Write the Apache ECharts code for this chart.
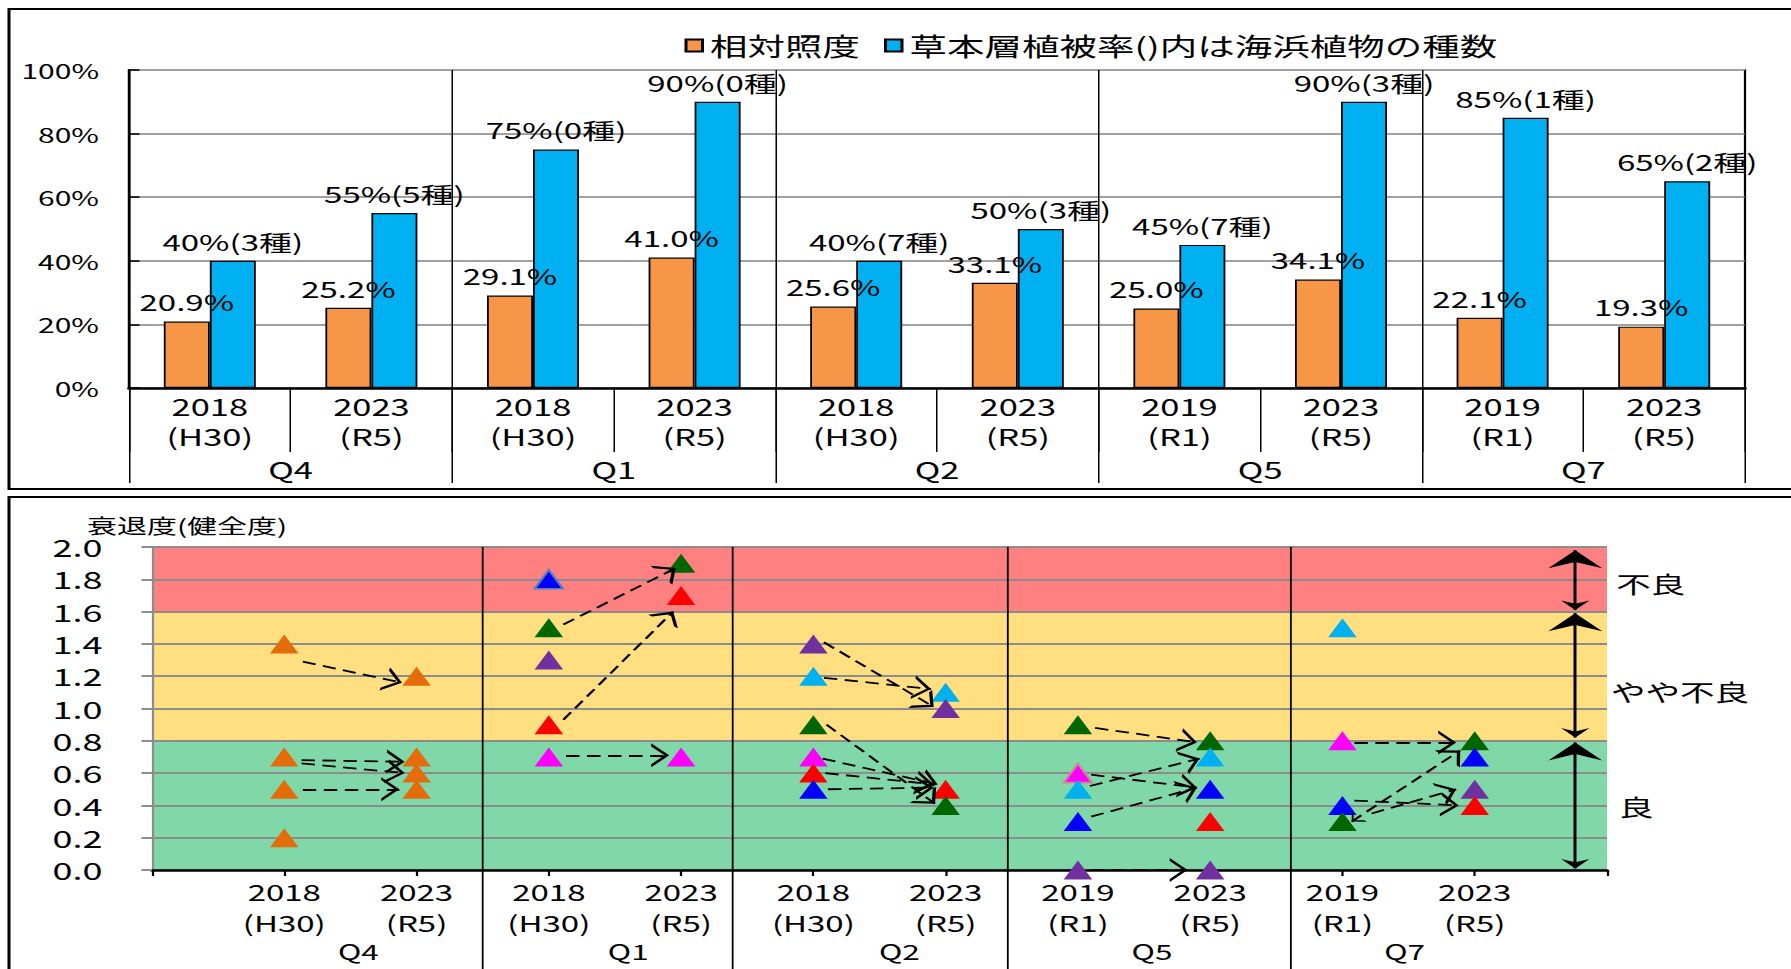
<!DOCTYPE html>
<html>
<head>
<meta charset="utf-8">
<script src="https://cdn.jsdelivr.net/npm/echarts@6/dist/echarts.min.js"></script>
<style>
  html, body { margin: 0; padding: 0; background: #fff; overflow: hidden; }
  #chart { position: absolute; left: 0; top: 0; height: 969px; transform-origin: 0 0; }
</style>
</head>
<body>
<div id="chart"></div>
<script>
// ---------- Top panel: relative illuminance / herb-layer coverage ----------
const sites = ['Q4', 'Q1', 'Q2', 'Q5', 'Q7'];
const surveyYears = ['2018', '2023', '2018', '2023', '2018', '2023', '2019', '2023', '2019', '2023'];
const surveyEras = ['H30', 'R5', 'H30', 'R5', 'H30', 'R5', 'R1', 'R5', 'R1', 'R5'];
const illuminance = [20.9, 25.2, 29.1, 41.0, 25.6, 33.1, 25.0, 34.1, 22.1, 19.3];
const coverage = [40, 55, 75, 90, 40, 50, 45, 90, 85, 65];
const coastalSpecies = [3, 5, 0, 0, 7, 3, 7, 3, 1, 2];

// ---------- Bottom panel: degradation (soundness) scores ----------
// [survey slot 1-10, score, colour key, optional outline key]
const scoresQ4 = [[1, 1.4, 'orange'], [1, 0.7, 'orange'], [1, 0.5, 'orange'], [1, 0.2, 'orange'],
                  [2, 1.2, 'orange'], [2, 0.7, 'orange'], [2, 0.6, 'orange'], [2, 0.5, 'orange']];
const scoresQ1 = [[3, 1.8, 'blue', 'steel'], [3, 1.5, 'green'], [3, 1.3, 'purple'], [3, 0.9, 'red'], [3, 0.7, 'magenta'],
                  [4, 1.9, 'green'], [4, 1.7, 'red'], [4, 0.7, 'magenta']];
const scoresQ2 = [[5, 1.4, 'purple'], [5, 1.2, 'cyan'], [5, 0.9, 'green'], [5, 0.7, 'magenta'], [5, 0.6, 'red'], [5, 0.5, 'blue'],
                  [6, 1.1, 'cyan'], [6, 1.0, 'purple'], [6, 0.5, 'red'], [6, 0.4, 'green']];
const scoresQ5 = [[7, 0.9, 'green'], [7, 0.6, 'magenta', 'rose'], [7, 0.5, 'cyan'], [7, 0.3, 'blue'], [7, 0.0, 'purple'],
                  [8, 0.8, 'green'], [8, 0.7, 'cyan'], [8, 0.5, 'blue'], [8, 0.3, 'red'], [8, 0.0, 'purple']];
const scoresQ7 = [[9, 1.5, 'cyan'], [9, 0.8, 'magenta'], [9, 0.4, 'blue'], [9, 0.3, 'green'],
                  [10, 0.8, 'green'], [10, 0.7, 'blue'], [10, 0.5, 'purple'], [10, 0.4, 'red']];

// Change arrows: [from slot, from score, to slot, to score]
const trendQ4 = [[1.14, 1.29, 1.89, 1.16], [1.13, 0.68, 1.91, 0.67], [1.13, 0.66, 1.91, 0.60], [1.14, 0.50, 1.87, 0.50]];
const trendQ1 = [[3.11, 1.52, 3.96, 1.87], [3.11, 0.93, 3.94, 1.60], [3.13, 0.71, 3.91, 0.71]];
const trendQ2 = [[5.08, 1.41, 5.91, 1.01], [5.08, 1.19, 5.89, 1.12], [5.10, 0.90, 5.92, 0.41],
                 [5.07, 0.69, 5.94, 0.53], [5.09, 0.60, 5.91, 0.53], [5.11, 0.50, 5.91, 0.51]];
const trendQ5 = [[7.13, 0.88, 7.90, 0.79], [7.10, 0.59, 7.90, 0.51], [7.09, 0.52, 7.92, 0.69],
                 [7.10, 0.33, 7.90, 0.51], [7.10, 0.00, 7.83, 0.00]];
const trendQ7 = [[9.09, 0.79, 9.86, 0.79], [9.09, 0.43, 9.88, 0.40], [9.22, 0.35, 9.86, 0.50]];
const trendQ7TwoWay = [[9.07, 0.30, 9.89, 0.74]];

// Rating bands and the range arrows beside them
const bandEdges = [0, 0.8, 1.6, 2.0];
const levelNames = ['良', 'やや不良', '不良'];
const levelSpans = [[0.01, 0.79], [0.82, 1.59], [1.61, 1.98]];
const levelLabelY = [0.40, 1.11, 1.78];
const levelLabelSlot = [11.09, 11.03, 11.07];
const levelArrowSlot = 10.76;
const siteDividers = [2.5, 4.39, 6.47, 8.61];
const siteLabelSlots = [1.56, 3.60, 5.65, 7.56, 9.47];

// ---------- chart ----------
const SX = 1.5; // horizontal stretch of the whole drawing
const el = document.getElementById('chart');
el.style.width = (1791 / SX) + 'px';
el.style.transform = 'scaleX(' + SX + ')';
const px = v => v / SX;
const FONT = '"Noto Sans CJK JP", "Noto Sans", sans-serif';

const palette = { orange: '#E46C0A', blue: '#0000FF', green: '#006600', purple: '#7030A0',
                  red: '#FF0000', magenta: '#FF00FF', cyan: '#00B0F0' };
const outlines = { steel: '#4F81BD', rose: '#C98A96' };
const CHEVRON = 'path://M10,-14L10.01,-14Z M10,0L20,14L17.4,14L10,3.6L2.6,14L0,14Z';
const STEALTH = 'path://M10,-20L10.01,-20Z M10,0L20,20L10,13L0,20Z';

const allScores = [...scoresQ4, ...scoresQ1, ...scoresQ2, ...scoresQ5, ...scoresQ7];
const scoreData = allScores.map(([x, y, c, o]) => ({
  value: [x, y],
  itemStyle: { color: palette[c], opacity: 1, borderColor: o ? outlines[o] : palette[c], borderWidth: o ? 1.6 : 0 }
}));
const toLines = arr => arr.map(a => ({ coords: [[a[0], a[1]], [a[2], a[3]]] }));
const allTrends = [...trendQ4, ...trendQ1, ...trendQ2, ...trendQ5, ...trendQ7];

const chart = echarts.init(el, null, { renderer: 'svg' });
const txt = { color: '#000', fontFamily: FONT };

const legendCoverage = '草本層植被率()内は海浜植物の種数';
const dashStyle = { color: '#000', width: 1.8, type: [9, 5], opacity: 1, curveness: 0 };

chart.setOption({
  animation: false,
  backgroundColor: '#fff',
  textStyle: { fontFamily: FONT, color: '#000' },
  legend: {
    left: px(677), top: 28, itemWidth: 11, itemHeight: 12, itemGap: 16, icon: 'rect',
    textStyle: Object.assign({ fontSize: 25 }, txt),
    data: ['相対照度', legendCoverage]
  },
  grid: [
    { left: px(129), top: 70, width: px(1745 - 129), height: 318, show: true, borderColor: '#000', borderWidth: 1.5 },
    { left: px(152), top: 547, width: px(1607 - 152), height: 323 }
  ],
  xAxis: [
    {
      gridIndex: 0, type: 'category', position: 'bottom',
      data: surveyYears.map((y, i) => y + '\n(' + surveyEras[i] + ')'),
      axisLine: { lineStyle: { color: '#000', width: 2.5 } },
      axisTick: { show: true, interval: 0, length: 64, lineStyle: { color: '#000', width: 1 } },
      axisLabel: Object.assign({ interval: 0, margin: 3, fontSize: 23, lineHeight: 30 }, txt),
      splitLine: { show: false }
    },
    {
      gridIndex: 0, type: 'category', position: 'bottom', data: sites,
      axisLine: { show: false },
      axisTick: { show: true, interval: 0, length: 95, lineStyle: { color: '#000', width: 1 } },
      axisLabel: Object.assign({ interval: 0, margin: 67, fontSize: 23, lineHeight: 28 }, txt),
      splitLine: { show: true, interval: 0, lineStyle: { color: '#000', width: 1 } }
    },
    {
      gridIndex: 1, type: 'value', position: 'bottom', min: 0, max: 11, interval: 1, z: 3,
      axisLine: { onZero: false, lineStyle: { color: '#000', width: 2.5 } },
      axisTick: { show: true, length: 6, lineStyle: { color: '#000', width: 1.5 } },
      axisLabel: Object.assign({
        margin: 6, fontSize: 22, lineHeight: 31,
        formatter: v => (Number.isInteger(v) && v >= 1 && v <= 10) ? surveyYears[v - 1] + '\n(' + surveyEras[v - 1] + ')' : ''
      }, txt),
      splitLine: { show: false }
    }
  ],
  yAxis: [
    {
      gridIndex: 0, type: 'value', position: 'left', min: 0, max: 100, interval: 20,
      axisLine: { show: true, lineStyle: { color: '#000', width: 1.5 } },
      axisTick: { show: true, inside: true, length: 7, lineStyle: { color: '#000', width: 1.5 } },
      axisLabel: Object.assign({ formatter: '{value}%', fontSize: 20, margin: 20 }, txt),
      splitLine: { lineStyle: { color: '#A0A0A0', width: 2 } }
    },
    {
      gridIndex: 1, type: 'value', position: 'left', min: 0, max: 2, interval: 0.2, z: 3,
      axisLine: { show: true, onZero: false, lineStyle: { color: '#8C8C8C', width: 1.5 } },
      axisTick: { show: true, length: 7, lineStyle: { color: '#8C8C8C', width: 2 } },
      axisLabel: Object.assign({ formatter: v => v.toFixed(1), fontSize: 24, margin: 33 }, txt),
      splitLine: { lineStyle: { color: '#8C8C8C', width: 2 } }
    }
  ],
  series: [
    {
      type: 'bar', name: '相対照度', xAxisIndex: 0, yAxisIndex: 0, data: illuminance,
      barWidth: px(46), barGap: '0%',
      itemStyle: { color: '#F79646', borderColor: '#000', borderWidth: 1.2 },
      label: Object.assign({ show: true, position: 'top', distance: 9, fontSize: 22,
        formatter: p => p.value.toFixed(1) + '%' }, txt)
    },
    {
      type: 'bar', name: legendCoverage, xAxisIndex: 0, yAxisIndex: 0, data: coverage,
      barWidth: px(46), barGap: '0%',
      itemStyle: { color: '#00B0F0', borderColor: '#000', borderWidth: 1.2 },
      label: Object.assign({ show: true, position: 'top', distance: 9, fontSize: 22,
        formatter: p => p.value + '%(' + coastalSpecies[p.dataIndex] + '種)' }, txt)
    },
    {
      // rating bands
      type: 'scatter', xAxisIndex: 2, yAxisIndex: 1, data: [], silent: true, z: 0,
      markArea: {
        silent: true, z: 1,
        data: [
          [{ yAxis: bandEdges[0], itemStyle: { color: '#80D8A8', opacity: 1 } }, { yAxis: bandEdges[1] }],
          [{ yAxis: bandEdges[1], itemStyle: { color: '#FFDF80', opacity: 1 } }, { yAxis: bandEdges[2] }],
          [{ yAxis: bandEdges[2], itemStyle: { color: '#FF8080', opacity: 1 } }, { yAxis: bandEdges[3] }]
        ]
      }
    },
    {
      type: 'scatter', xAxisIndex: 2, yAxisIndex: 1, z: 5, silent: true,
      symbol: 'triangle', symbolSize: [19, 19], itemStyle: { opacity: 1 }, data: scoreData
    },
    {
      type: 'lines', coordinateSystem: 'cartesian2d', xAxisIndex: 2, yAxisIndex: 1, z: 6, silent: true, clip: false,
      symbol: ['none', CHEVRON], symbolSize: [14, 24],
      lineStyle: dashStyle, data: toLines(allTrends)
    },
    {
      type: 'lines', coordinateSystem: 'cartesian2d', xAxisIndex: 2, yAxisIndex: 1, z: 6, silent: true, clip: false,
      symbol: [CHEVRON, CHEVRON], symbolSize: [14, 24],
      lineStyle: dashStyle, data: toLines(trendQ7TwoWay)
    },
    {
      type: 'lines', coordinateSystem: 'cartesian2d', xAxisIndex: 2, yAxisIndex: 1, z: 6, silent: true, clip: false,
      symbol: [STEALTH, STEALTH], symbolSize: [19, 36],
      lineStyle: { color: '#000', width: 2, type: 'solid', opacity: 1, curveness: 0 },
      data: levelSpans.map(s => ({ coords: [[levelArrowSlot, s[0]], [levelArrowSlot, s[1]]] }))
    }
  ]
});

// Frames, site dividers and annotation text, placed through the axis scales
const pt = (x, y) => chart.convertToPixel({ gridIndex: 1 }, [x, y]);
const graphics = [
  { type: 'rect', z: 10, silent: true, shape: { x: px(9), y: 9, width: px(1830) - px(9), height: 480 },
    style: { fill: 'none', stroke: '#000', lineWidth: 2 } },
  { type: 'rect', z: 10, silent: true, shape: { x: px(9), y: 497, width: px(1830) - px(9), height: 600 },
    style: { fill: 'none', stroke: '#000', lineWidth: 2 } },
  { type: 'text', z: 10, silent: true, x: px(87), y: 525,
    style: { text: '衰退度(健全度)', fill: '#000', font: '20px ' + FONT, verticalAlign: 'middle' } }
];
siteDividers.forEach(d => {
  const top = pt(d, 2.0);
  graphics.push({ type: 'line', z: 4, silent: true,
    shape: { x1: top[0], y1: top[1], x2: top[0], y2: 969 },
    style: { stroke: '#000', lineWidth: 1.2 } });
});
siteLabelSlots.forEach((s, i) => {
  const p = pt(s, 0);
  graphics.push({ type: 'text', z: 10, silent: true, x: p[0], y: 951,
    style: { text: sites[i], fill: '#000', font: '21px ' + FONT, align: 'center', verticalAlign: 'middle' } });
});
levelNames.forEach((name, i) => {
  const p = pt(levelLabelSlot[i], levelLabelY[i]);
  graphics.push({ type: 'text', z: 10, silent: true, x: p[0], y: p[1],
    style: { text: name, fill: '#000', font: '23px ' + FONT, verticalAlign: 'middle' } });
});
chart.setOption({ graphic: graphics });
</script>
</body>
</html>
